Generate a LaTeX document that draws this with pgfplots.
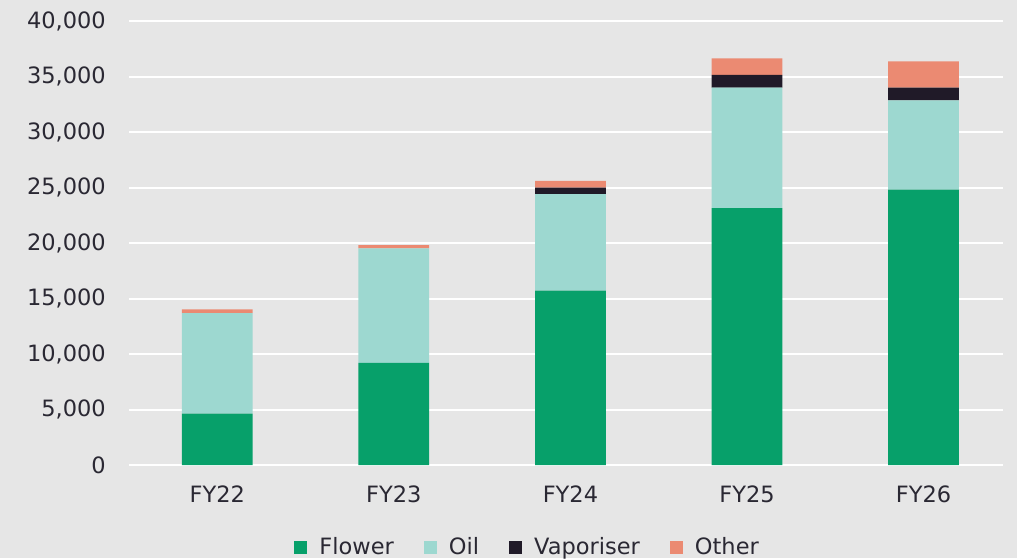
\documentclass[border=0pt]{standalone}
\usepackage{fontspec}
\setmainfont{DejaVu Sans}
\usepackage{pgfplots}
\pgfplotsset{compat=1.18}
\definecolor{bg}{RGB}{230,230,230}
\definecolor{flower}{RGB}{7,160,106}
\definecolor{oil}{RGB}{157,216,208}
\definecolor{vap}{RGB}{32,26,40}
\definecolor{other}{RGB}{235,138,114}
\definecolor{txt}{RGB}{42,40,51}
\begin{document}
\begin{tikzpicture}
\fill[bg] (-129pt,-93pt) rectangle (888pt,465pt);
\useasboundingbox (-129pt,-93pt) rectangle (888pt,465pt);
\begin{axis}[
  at={(0,0)}, anchor=south west,
  scale only axis, width=874pt, height=444pt,
  ybar stacked, bar width=70.7pt,
  xmin=-0.5, xmax=4.45, ymin=0, ymax=40000,
  xtick={0,1,2,3,4}, xticklabels={FY22,FY23,FY24,FY25,FY26},
  ytick={0,5000,...,40000},
  ymajorgrids, grid style={white, line width=2pt},
  axis line style={draw=none},
  major tick length=0pt,
  tick label style={font=\fontsize{22.5}{27}\selectfont, text=txt},
  yticklabel style={anchor=east, inner sep=0pt, xshift=-23pt},
  xticklabel style={anchor=north, inner sep=0pt, yshift=-21pt},
  scaled y ticks=false,
  /pgf/number format/1000 sep={,},
  /pgf/number format/assume math mode=true,
  legend style={at={(0.455,-0.1835)}, anchor=center, draw=none, fill=none,
    font=\fontsize{22.5}{27}\selectfont, text=txt,
    nodes={inner sep=0pt},
    /tikz/every odd column/.style={column sep=12pt},
    /tikz/every even column/.style={column sep=30pt}},
  legend columns=4,
  legend image code/.code={\fill[#1] (0pt,-7.5pt) rectangle (13pt,5.5pt);},
]
\addplot[fill=flower, draw=none] coordinates {(0,4620) (1,9200) (2,15700) (3,23150) (4,24800)};
\addplot[fill=oil, draw=none] coordinates {(0,9070) (1,10320) (2,8700) (3,10850) (4,8050)};
\addplot[fill=vap, draw=none] coordinates {(0,0) (1,0) (2,600) (3,1150) (4,1150)};
\addplot[fill=other, draw=none] coordinates {(0,340) (1,300) (2,600) (3,1480) (4,2370)};
\legend{Flower, Oil, Vaporiser, Other}
\end{axis}
\end{tikzpicture}
\end{document}
